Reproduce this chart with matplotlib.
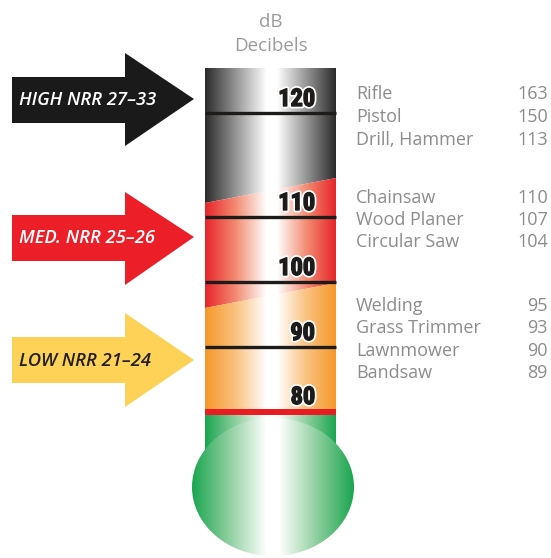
import numpy as np
import matplotlib
matplotlib.use('Agg')
import matplotlib.pyplot as plt
from matplotlib import font_manager
from matplotlib.patches import Polygon, Ellipse, Rectangle
import matplotlib.patheffects as pe

# scale labels on the thermometer
scale_ticks = ['120', '110', '100', '90', '80']

# noise sources (dB)
groups = [
    (['Rifle', 'Pistol', 'Drill, Hammer'], [163, 150, 113]),
    (['Chainsaw', 'Wood Planer', 'Circular Saw'], [110, 107, 104]),
    (['Welding', 'Grass Trimmer', 'Lawnmower', 'Bandsaw'], [95, 93, 90, 89]),
]

arrow_labels = ['HIGH NRR 27\u201333', 'MED. NRR 25\u201326', 'LOW NRR 21\u201324']

# layout (pixels)
W, H = 551, 558
tube_l, tube_r = 205, 336
tick_y = [99, 203, 268, 333, 397]
group_y = [[93, 116, 139], [197, 219, 241], [305, 327, 350, 372]]
arrow_y = [(53, 77, 123, 146, 99), (192, 215, 261, 285, 237), (313, 337, 383, 407, 360)]
arrow_col = ['#1b1a1a', '#ec1f28', '#fdd257']
arrow_txt = ['white', 'white', '#231f20']

# condensed font for the scale numbers, whatever is available
have = {f.name for f in font_manager.fontManager.ttflist}
narrow = [f for f in ['Liberation Sans Narrow', 'Roboto Condensed', 'DejaVu Sans'] if f in have]

fig = plt.figure(figsize=(W / 100, H / 100), dpi=100)
ax = fig.add_axes([0, 0, 1, 1])
ax.set_xlim(0, W)
ax.set_ylim(H, 0)
ax.axis('off')


def hgrad(stops, x0, x1, xc, flat=0.08):
    # stops: colours from centre (white) out to the edge
    xs = np.linspace(x0, x1, 400)
    d = np.where(xs < xc, (xc - xs) / (xc - x0), (xs - xc) / (x1 - xc))
    t = np.clip((d - flat) / (1 - flat), 0, 1)
    cols = [np.array(matplotlib.colors.to_rgb(c)) for c in ['white'] + stops]
    pos = np.linspace(0, 1, len(cols))
    img = np.stack([np.interp(t, pos, [c[k] for c in cols]) for k in range(3)], axis=-1)
    return img[None, :, :]


def fill_grad(poly, stops, x0, x1, y0, y1, xc=272, z=2):
    patch = Polygon(poly, closed=True, facecolor='none', edgecolor='none')
    ax.add_patch(patch)
    im = ax.imshow(hgrad(stops, x0, x1, xc), extent=(x0, x1, y1, y0),
                   aspect='auto', origin='upper', zorder=z, interpolation='bilinear')
    im.set_clip_path(patch)


# tube sections
fill_grad([(tube_l, 68), (tube_r, 68), (tube_r, 178), (tube_l, 203)], ['#2b2b2b'], tube_l, tube_r, 68, 205)
fill_grad([(tube_l, 203), (tube_r, 178), (tube_r, 283), (tube_l, 308)], ['#f38c72', '#e8242a'],
          tube_l, tube_r, 176, 310)
fill_grad([(tube_l, 308), (tube_r, 283), (tube_r, 410), (tube_l, 410)], ['#f9c27f', '#f6982a'],
          tube_l, tube_r, 281, 411)
fill_grad([(tube_l, 414), (tube_r, 414), (tube_r, 500), (tube_l, 500)], ['#8fcf9f', '#1aa650'],
          tube_l, tube_r, 413, 501)
ax.add_patch(Rectangle((tube_l, 409), tube_r - tube_l, 6, facecolor='#e91c24', edgecolor='none', zorder=3))

# bulb
bulb = Ellipse((273, 487), 162, 138, facecolor='none', edgecolor='none')
ax.add_patch(bulb)
im = ax.imshow(hgrad(['#8fcf9f', '#1aa650'], 192, 354, 273), extent=(192, 354, 558, 418),
               aspect='auto', origin='upper', zorder=4, interpolation='bilinear')
im.set_clip_path(bulb)

# division lines and scale labels
for i, lab in enumerate(scale_ticks):
    if i < len(scale_ticks) - 1:
        ax.plot([tube_l, tube_r], [tick_y[i] + 14, tick_y[i] + 14], color='#1e1b1b', lw=2.4, zorder=5,
                solid_capstyle='butt')
    ax.text(315, tick_y[i] + 0.5, lab, ha='right', va='center', fontsize=17.5, fontweight='heavy',
            fontstretch='condensed', family=narrow, color='#1e1b1b', zorder=6,
            path_effects=[pe.withStroke(linewidth=3.5, foreground='white'),
                          pe.withStroke(linewidth=1.0, foreground='#1e1b1b')])

# header
ax.text(271, 22, 'dB', ha='center', va='center', fontsize=13.5, color='#9b9b9b', family='Open Sans')
ax.text(271, 46, 'Decibels', ha='center', va='center', fontsize=13.5, color='#9b9b9b', family='Open Sans')

# arrows
for (ht, bt, bb, hb, tip), col, tc, lab in zip(arrow_y, arrow_col, arrow_txt, arrow_labels):
    pts = [(12, bt), (125, bt), (125, ht), (194, tip), (125, hb), (125, bb), (12, bb)]
    ax.add_patch(Polygon(pts, closed=True, facecolor=col, edgecolor='none', zorder=2))
    ax.text(19, tip + 1, lab, ha='left', va='center', fontsize=13.2, fontstyle='italic',
            fontweight='semibold', color=tc, family='Open Sans', zorder=3)

# noise source list
for (names, vals), ys in zip(groups, group_y):
    for n, v, y in zip(names, vals, ys):
        ax.text(356, y + 1, n, ha='left', va='center', fontsize=13, color='#8c8c8c', family='Open Sans')
        ax.text(548, y + 1, str(v), ha='right', va='center', fontsize=13, color='#8c8c8c', family='Open Sans')

fig.savefig('out.png', dpi=100)
